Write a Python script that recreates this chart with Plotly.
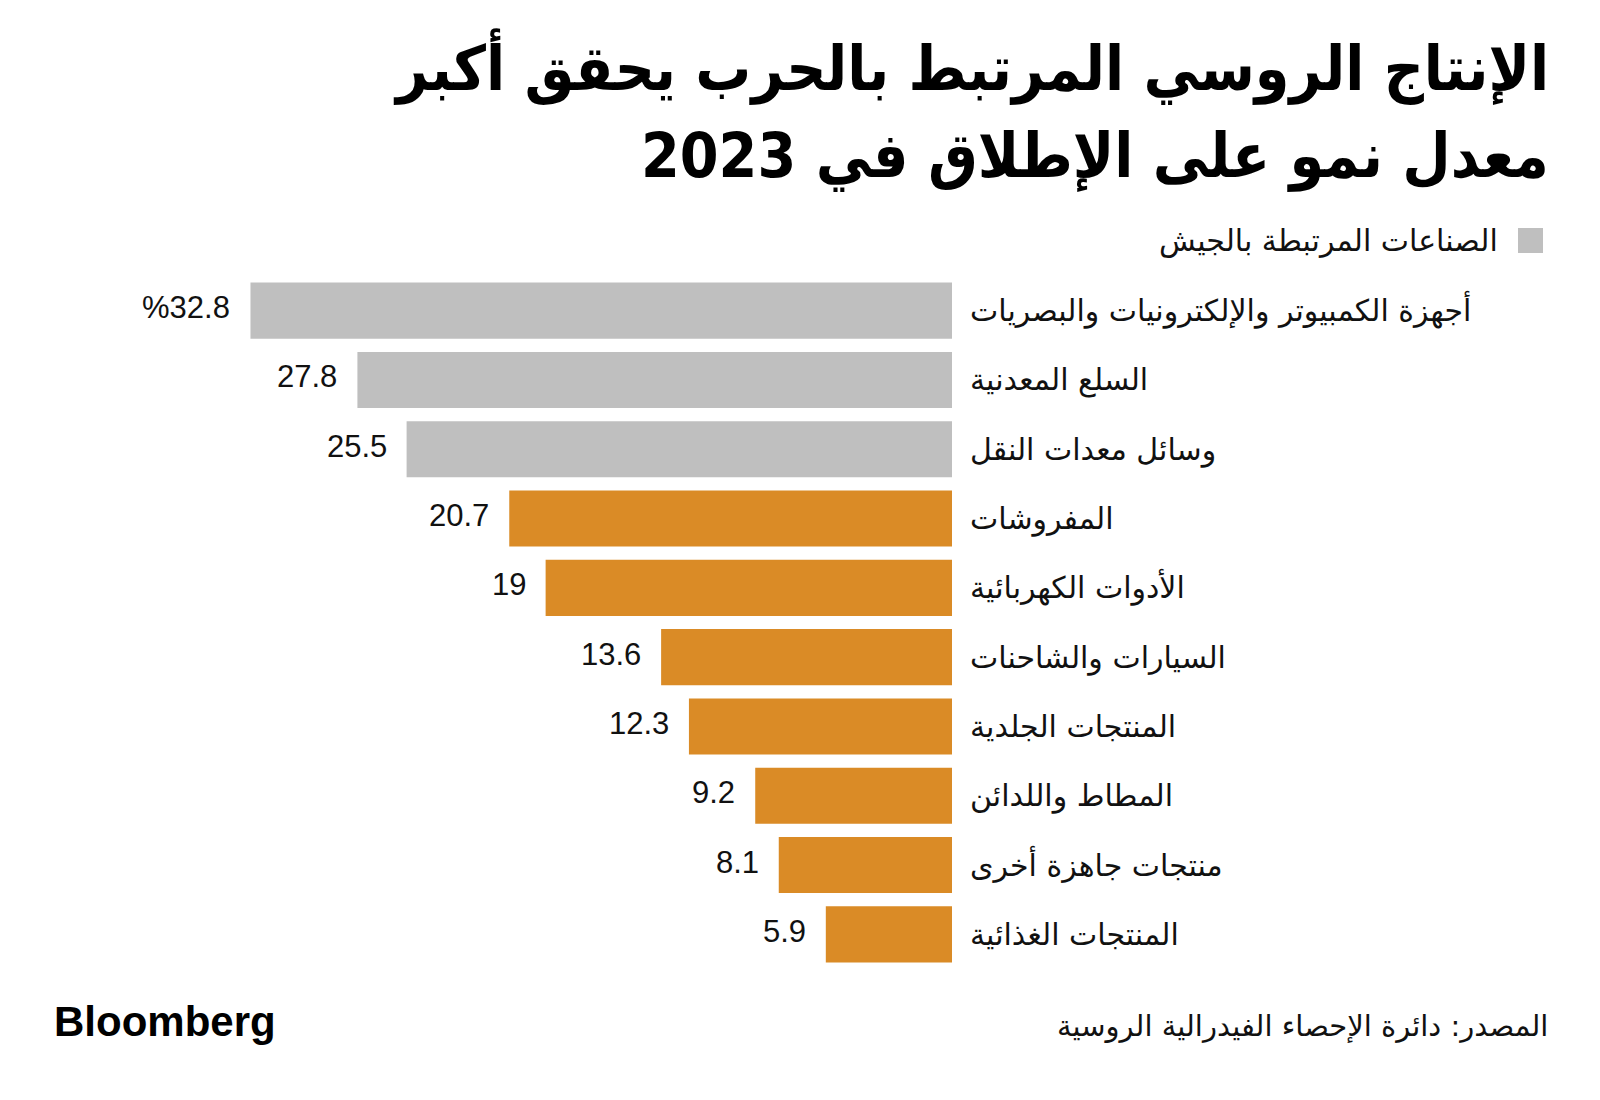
import plotly.graph_objects as go

categories = [
    "أجهزة الكمبيوتر والإلكترونيات والبصريات",
    "السلع المعدنية",
    "وسائل معدات النقل",
    "المفروشات",
    "الأدوات الكهربائية",
    "السيارات والشاحنات",
    "المنتجات الجلدية",
    "المطاط واللدائن",
    "منتجات جاهزة أخرى",
    "المنتجات الغذائية",
]
values = [32.8, 27.8, 25.5, 20.7, 19, 13.6, 12.3, 9.2, 8.1, 5.9]
military = [True, True, True, False, False, False, False, False, False, False]

title_lines = ["الإنتاج الروسي المرتبط بالحرب يحقق أكبر", "معدل نمو على الإطلاق في 2023"]
legend_label = "الصناعات المرتبطة بالجيش"
source_text = "المصدر: دائرة الإحصاء الفيدرالية الروسية"

GRAY = "#BFBFBF"
ORANGE = "#DA8B26"
AR_FONT = "DejaVu Sans, Noto Sans, sans-serif"
NUM_FONT = "Liberation Sans, Arial, sans-serif"

OFF = 8  # page body margin offset
W, H = 1600, 1100
L, R, T, B = 112, 656, 268, 139
plot_w = W - L - R
plot_h = H - T - B

def px_x(x):
    return (x - OFF - L) / plot_w

def px_y(y_from_top):
    return (H - (y_from_top - OFF) - B) / plot_h

colors = [GRAY if m else ORANGE for m in military]

fig = go.Figure()
fig.add_trace(go.Bar(
    x=values,
    y=categories,
    orientation="h",
    marker=dict(color=colors, line=dict(width=0)),
    width=0.81,
    showlegend=False,
    hoverinfo="x+y",
))

def fmt(v):
    return f"{v:g}"

annotations = []
for i, (c, v) in enumerate(zip(categories, values)):
    txt = ("%" + fmt(v)) if i == 0 else fmt(v)
    annotations.append(dict(
        x=v, y=c, xref="x", yref="y", text=txt, showarrow=False,
        xanchor="right", yanchor="middle", xshift=-18, yshift=3,
        font=dict(family=NUM_FONT, size=31, color="#111111"),
    ))

# Title
for line, bottom in zip(title_lines, [107, 194]):
    annotations.append(dict(
        x=px_x(1551), y=px_y(bottom), xref="paper", yref="paper", text=line,
        showarrow=False, xanchor="right", yanchor="bottom",
        font=dict(family="DejaVu Sans Condensed, DejaVu Sans", size=62,
                  color="#000000", weight=700),
    ))

# Legend
fig.add_shape(type="rect", xref="paper", yref="paper",
              x0=px_x(1518), x1=px_x(1543), y0=px_y(253), y1=px_y(228),
              fillcolor=GRAY, line=dict(width=0))
annotations.append(dict(
    x=px_x(1500), y=px_y(241), xref="paper", yref="paper", text=legend_label,
    showarrow=False, xanchor="right", yanchor="middle",
    font=dict(family=AR_FONT, size=30, color="#111111"),
))

# Footer
annotations.append(dict(
    x=px_x(52), y=px_y(1021), xref="paper", yref="paper", text="<b>Bloomberg</b>",
    showarrow=False, xanchor="left", yanchor="middle",
    font=dict(family="Liberation Sans, Arial", size=42, color="#000000"),
))
annotations.append(dict(
    x=px_x(1550), y=px_y(1026), xref="paper", yref="paper", text=source_text,
    showarrow=False, xanchor="right", yanchor="middle",
    font=dict(family=AR_FONT, size=29, color="#111111"),
))

fig.update_layout(
    width=W, height=H,
    paper_bgcolor="white", plot_bgcolor="white",
    margin=dict(l=L, r=R, t=T, b=B, pad=0),
    xaxis=dict(range=[38.9, 0], showgrid=False, zeroline=False, showticklabels=False,
               showline=False, ticks=""),
    yaxis=dict(side="right", autorange="reversed", showgrid=False, zeroline=False,
               showline=False, ticks="", ticklabelstandoff=17,
               tickfont=dict(family=AR_FONT, size=30, color="#111111")),
    font=dict(family=AR_FONT),
    annotations=annotations,
)

fig.write_html("out.html")
